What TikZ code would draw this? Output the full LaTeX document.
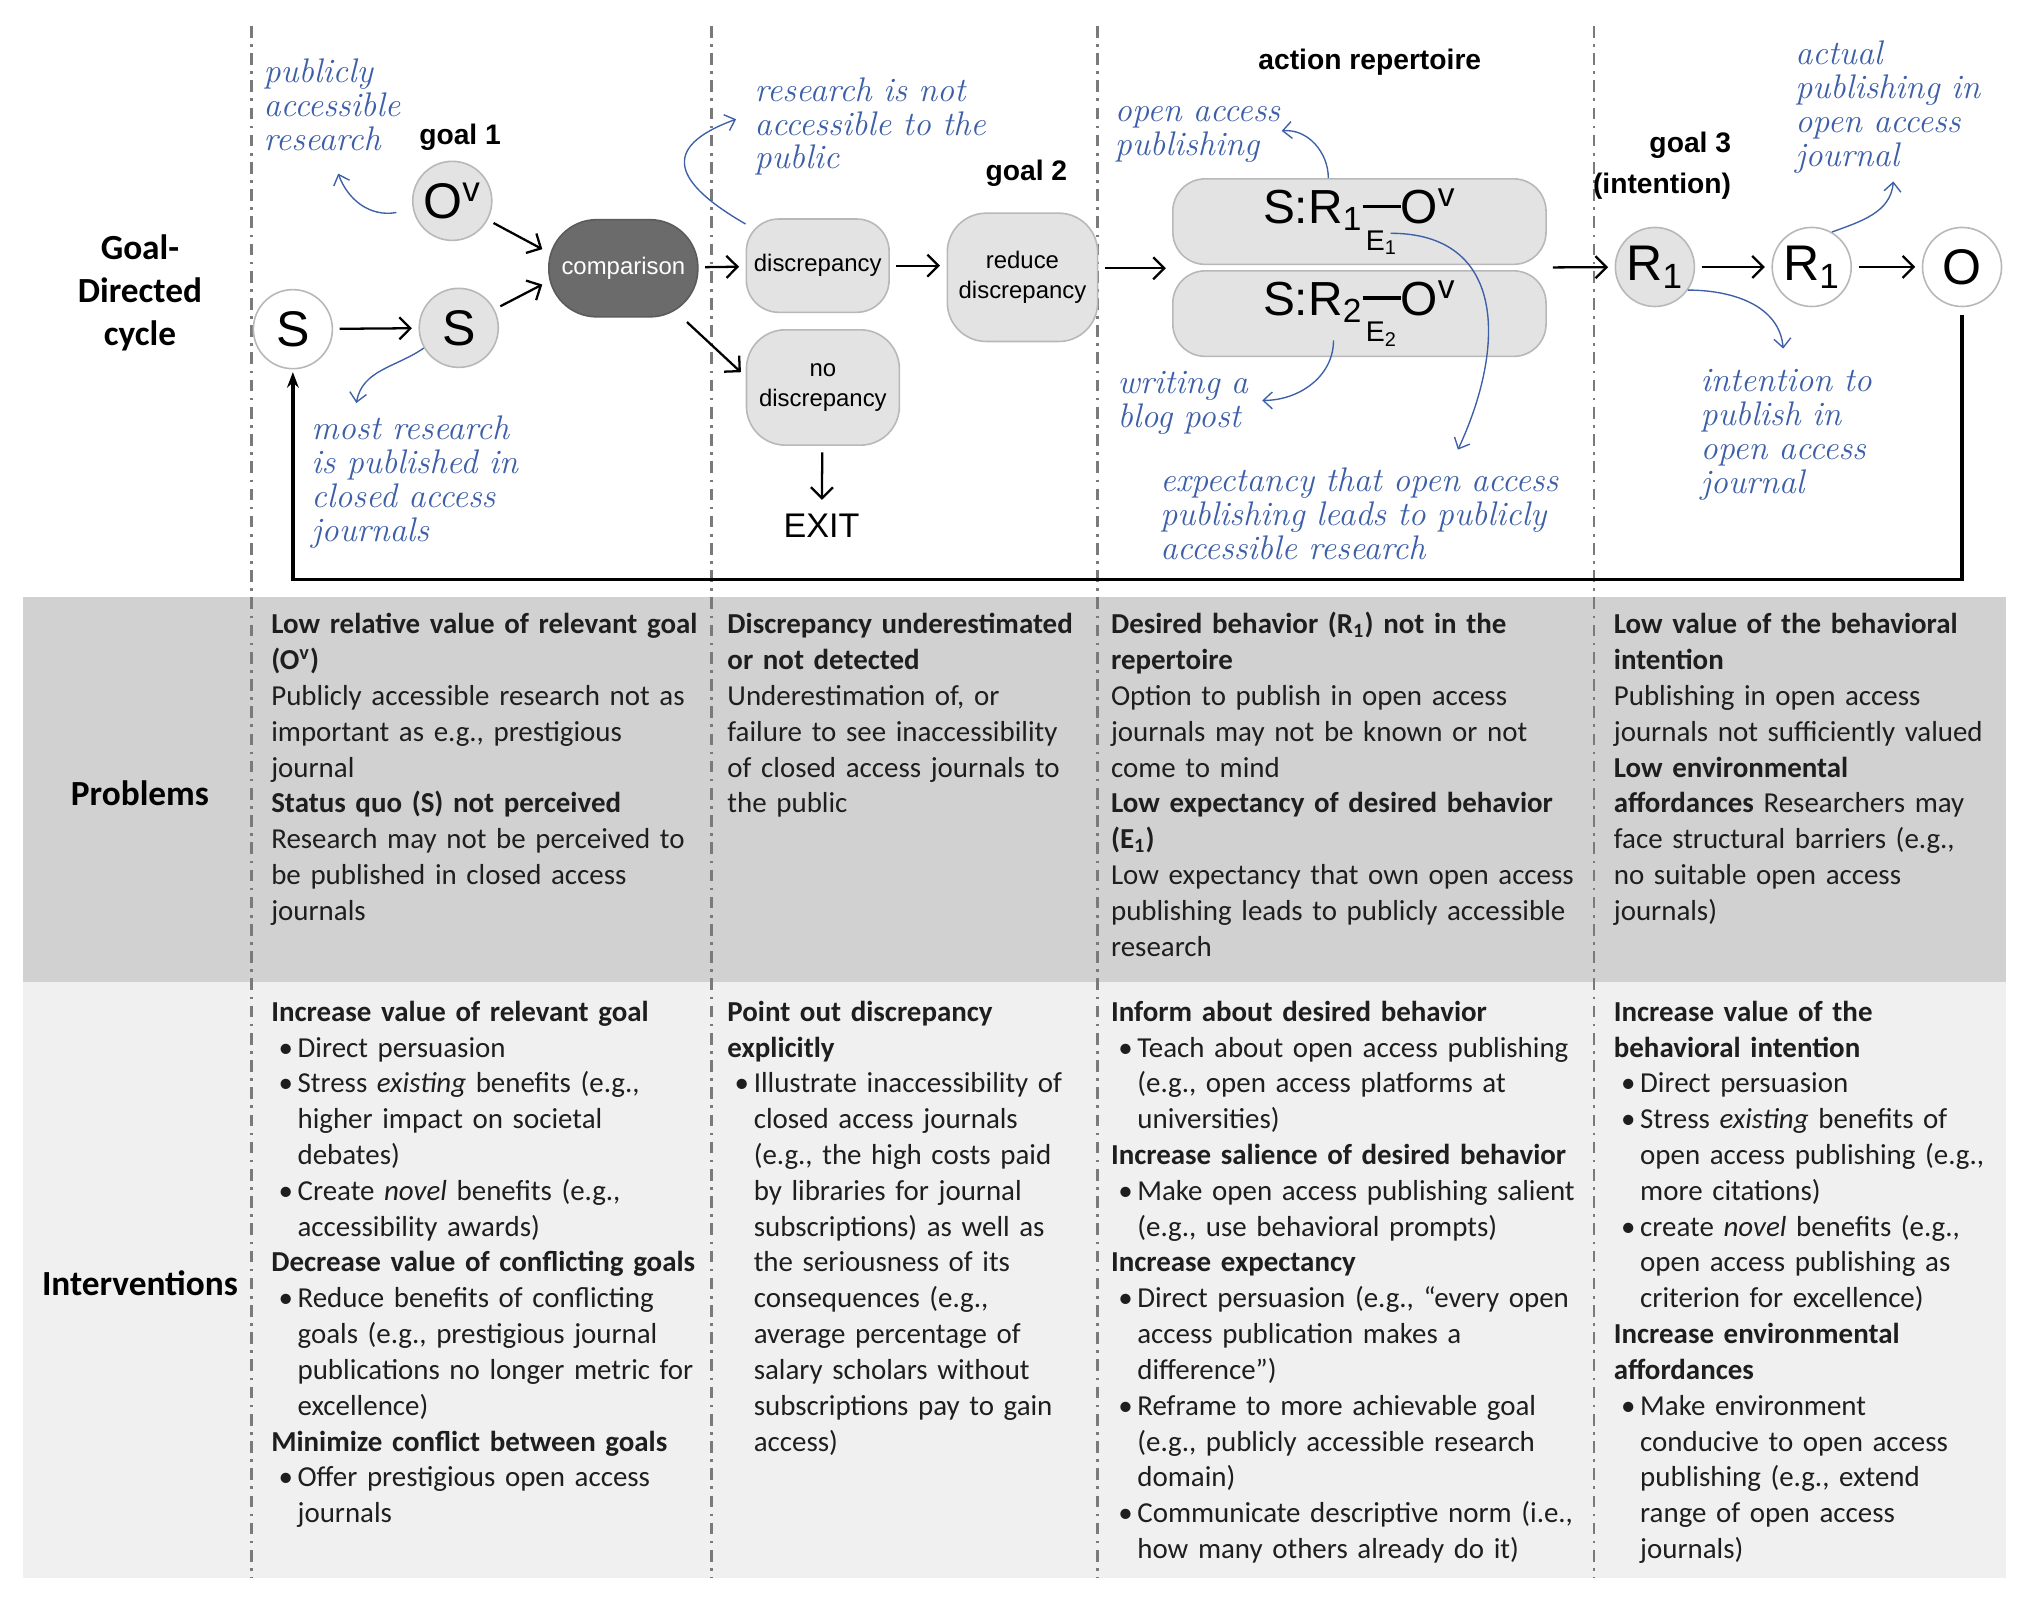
\documentclass[tikz,border=0pt]{standalone}
\usepackage{fontspec}
\newfontfamily\calfont{Carlito}
\newfontfamily\arialfont{Liberation Sans}
\usetikzlibrary{positioning,arrows.meta}

\definecolor{noteblue}{HTML}{3D5FA8}
\definecolor{probfill}{HTML}{D1D1D1}
\definecolor{intfill}{HTML}{F0F0F0}
\definecolor{boxfill}{HTML}{E3E3E3}
\definecolor{boxline}{HTML}{B8B8B8}
\definecolor{compfill}{HTML}{6B6B6B}
\definecolor{sepline}{HTML}{7A7A7A}
\definecolor{celltext}{HTML}{1E1E1E}

\newcommand\bl{\hspace*{0.25em}\makebox[0.66em][l]{\textbullet}}
\newcommand\ct{\hspace*{0.91em}}
\newcommand\srlab[1]{S:R\textsubscript{#1}\makebox[0pt][l]{\raisebox{-0.55em}{\fontsize{12.5}{12.5}\selectfont\hspace{0.12em}E\textsubscript{#1}}}\rule[0.33em]{0.8em}{0.07em}O\textsuperscript{v}}

\begin{document}
\begin{tikzpicture}[x=0.2mm,y=-0.2mm,
    circ/.style={circle,draw=boxline,line width=0.7pt,minimum size=12.2mm,inner sep=0pt,
      font=\arialfont\fontsize{22}{22}\selectfont},
    statefill/.style={circ,fill=boxfill},
    stateopen/.style={circ,fill=white},
    proc/.style={rounded corners=5mm,draw=boxline,line width=0.7pt,fill=boxfill,align=center,
      font=\arialfont\fontsize{10.5}{13}\selectfont},
    goal/.style={font=\arialfont\bfseries\fontsize{12.4}{18}\selectfont},
    flow/.style={-{Straight Barb[length=1.7mm,width=3.4mm]},line width=1pt,shorten <=1mm,shorten >=1mm},
    note/.style={noteblue,font=\itshape\fontsize{15}{14.9}\selectfont,anchor=base west,align=left,
      text width=7cm,inner sep=0pt},
    notearrow/.style={noteblue,line width=0.6pt,-{Straight Barb[length=1.4mm,width=2.6mm]}},
    rowhead/.style={font=\calfont\bfseries\fontsize{15.5}{18.7}\selectfont,align=center},
    cell/.style={font=\calfont\fontsize{12.7}{15.73}\selectfont,text=celltext,anchor=base west,
      align=left,text width=7.5cm,inner sep=0pt},
    colsep/.style={sepline,line width=1.2pt,dash pattern=on 1.8mm off 1mm on 0.4mm off 1mm}
  ]
    \useasboundingbox (0,0) rectangle (1568,1237);

    % Bands
    \fill[probfill] (18,461) rectangle (1548,758);
    \fill[intfill] (18,758) rectangle (1548,1218);

    % Column separators
    \draw[colsep] (194,20) -- (194,1218);
    \draw[colsep] (549,20) -- (549,1218);
    \draw[colsep] (847,20) -- (847,1218);
    \draw[colsep] (1230,20) -- (1230,1218);

    % Row heads
    \node[rowhead] (gdc) at (108,226) {Goal-\\Directed\\cycle};
    \node[rowhead] (prob) at (108,612) {Problems};
    \node[rowhead] (intv) at (108,990) {Interventions};

    % Goal 1
    \node[stateopen] (S0) at (226,254) {S};
    \node[statefill] (S1) at (354,253) {S};
    \node[statefill] (Ov) at (349,155) {O\textsuperscript{v}};
    \node[goal] (g1) at (355,106) {goal 1};

    % Comparison
    \node[proc,fill=compfill,draw=compfill!85!black,text=white,minimum width=23mm,
      minimum height=15mm,rounded corners=7.4mm] (comp) at (481,207) {comparison};
    \node[proc,minimum width=20.8mm,minimum height=14.4mm] (disc) at (631,205) {discrepancy};
    \node[proc,minimum width=23.6mm,minimum height=17.8mm,rounded corners=6mm] (nodisc) at (635,299) {no\\discrepancy};
    \node[font=\arialfont\fontsize{15}{15}\selectfont] (exit) at (634,406) {EXIT};

    % Goal 2
    \node[proc,minimum width=23.2mm,minimum height=19.8mm,rounded corners=6mm] (red) at (789,214) {reduce\\discrepancy};
    \node[goal] (g2) at (792,134) {goal 2};

    % Action repertoire
    \node[goal] (ar) at (1057,48) {action repertoire};
    \node[proc,minimum width=57.6mm,minimum height=13.2mm,font=\arialfont\fontsize{21}{21}\selectfont] (sr1) at (1049,171) {\srlab{1}};
    \node[proc,minimum width=57.6mm,minimum height=13.2mm,font=\arialfont\fontsize{21}{21}\selectfont] (sr2) at (1049,242) {\srlab{2}};
    \node[minimum width=57.6mm,minimum height=27.4mm] (rep) at (1049,207) {};

    % Goal 3
    \node[goal,align=right,anchor=east] (g3) at (1342,128) {goal 3\\(intention)};
    \node[statefill] (R1a) at (1277,206) {R\textsubscript{1}};
    \node[stateopen] (R1b) at (1398,206) {R\textsubscript{1}};
    \node[stateopen] (O) at (1514,206) {O};

    % Flow
    \draw[flow] (S0) -- (S1);
    \draw[flow] (Ov) -- (comp.168);
    \draw[flow] (S1) -- (comp.190);
    \draw[flow] (comp) -- (disc);
    \draw[flow] (comp.-40) -- (nodisc.172);
    \draw[flow] (nodisc) -- (exit);
    \draw[flow] (disc) -- (disc -| red.west);
    \draw[flow] (red.east |- rep) -- (rep);
    \draw[flow] (rep) -- (R1a);
    \draw[flow] (R1a) -- (R1b);
    \draw[flow] (R1b) -- (O);

    % Feedback
    \coordinate (fb) at (226,447);
    \draw[line width=1.5pt,-{Stealth[length=2.4mm,width=1.8mm]},shorten <=1.2mm,shorten >=0.4mm] (O) |- (fb) -- (S0);

    % Notes
    \node[note] (n1) at (203,64) {publicly\\accessible\\research};
    \node[note] (n2) at (240,339) {most research\\is published in\\closed access\\journals};
    \node[note] (n3) at (582,78) {research is not\\accessible to the\\public};
    \node[note] (n4) at (860,94) {open access\\publishing};
    \node[note] (n5) at (862,304) {writing a\\blog post};
    \node[note] (n6) at (895,379) {expectancy that open access\\publishing leads to publicly\\accessible research};
    \node[note] (n7) at (1385,50) {actual\\publishing in\\open access\\journal};
    \node[note] (n8) at (1312,302) {intention to\\publish in\\open access\\journal};

    \coordinate (e1) at (261,134);
    \coordinate (e2) at (275,311);
    \coordinate (e3) at (568,92);
    \coordinate (e4) at (989,101);
    \coordinate (e5) at (974,309);
    \coordinate (e6) at (1125,347);
    \coordinate (e7) at (1461,140);
    \coordinate (e8) at (1376,269);
    \draw[notearrow] ([xshift=-2.4mm,yshift=-1.8mm]Ov.west) to[out=190,in=-70] (e1);
    \draw[notearrow] (S1.210) to[out=215,in=80] (e2);
    \draw[notearrow] (disc.150) to[out=150,in=200,looseness=2] (e3);
    \draw[notearrow] ([xshift=-4.8mm]sr1.north) to[out=90,in=5] (e4);
    \draw[notearrow] ([xshift=-4mm,yshift=2.6mm]sr2.south) to[out=-90,in=0] (e5);
    \draw[notearrow] ([xshift=4.8mm,yshift=-1.8mm]sr1.center) to[out=0,in=65,looseness=1.3] (e6);
    \draw[notearrow] (R1b.60) to[out=20,in=-95] (e7);
    \draw[notearrow] (R1a.-35) to[out=0,in=95] (e8);

    % Problems
    \node[cell] (p1) at (209,489) {\textbf{Low relative value of relevant goal}\\
      \textbf{(O\textsuperscript{v})}\\
      Publicly accessible research not as\\
      important as e.g., prestigious\\
      journal\\
      \textbf{Status quo (S) not perceived}\\
      Research may not be perceived to\\
      be published in closed access\\
      journals};
    \node[cell] (p2) at (561,489) {\textbf{Discrepancy underestimated}\\
      \textbf{or not detected}\\
      Underestimation of, or\\
      failure to see inaccessibility\\
      of closed access journals to\\
      the public};
    \node[cell] (p3) at (857,489) {\textbf{Desired behavior (R\textsubscript{1}) not in the}\\
      \textbf{repertoire}\\
      Option to publish in open access\\
      journals may not be known or not\\
      come to mind\\
      \textbf{Low expectancy of desired behavior}\\
      \textbf{(E\textsubscript{1})}\\
      Low expectancy that own open access\\
      publishing leads to publicly accessible\\
      research};
    \node[cell] (p4) at (1245,489) {\textbf{Low value of the behavioral}\\
      \textbf{intention}\\
      Publishing in open access\\
      journals not sufficiently valued\\
      \textbf{Low environmental}\\
      \textbf{affordances} Researchers may\\
      face structural barriers (e.g.,\\
      no suitable open access\\
      journals)};

    % Interventions
    \node[cell] (i1) at (209,788) {\textbf{Increase value of relevant goal}\\
      \bl Direct persuasion\\
      \bl Stress \textit{existing} benefits (e.g.,\\
      \ct higher impact on societal\\
      \ct debates)\\
      \bl Create \textit{novel} benefits (e.g.,\\
      \ct accessibility awards)\\
      \textbf{Decrease value of conflicting goals}\\
      \bl Reduce benefits of conflicting\\
      \ct goals (e.g., prestigious journal\\
      \ct publications no longer metric for\\
      \ct excellence)\\
      \textbf{Minimize conflict between goals}\\
      \bl Offer prestigious open access\\
      \ct journals};
    \node[cell] (i2) at (561,788) {\textbf{Point out discrepancy}\\
      \textbf{explicitly}\\
      \bl Illustrate inaccessibility of\\
      \ct closed access journals\\
      \ct (e.g., the high costs paid\\
      \ct by libraries for journal\\
      \ct subscriptions) as well as\\
      \ct the seriousness of its\\
      \ct consequences (e.g.,\\
      \ct average percentage of\\
      \ct salary scholars without\\
      \ct subscriptions pay to gain\\
      \ct access)};
    \node[cell] (i3) at (857,788) {\textbf{Inform about desired behavior}\\
      \bl Teach about open access publishing\\
      \ct (e.g., open access platforms at\\
      \ct universities)\\
      \textbf{Increase salience of desired behavior}\\
      \bl Make open access publishing salient\\
      \ct (e.g., use behavioral prompts)\\
      \textbf{Increase expectancy}\\
      \bl Direct persuasion (e.g., “every open\\
      \ct access publication makes a\\
      \ct difference”)\\
      \bl Reframe to more achievable goal\\
      \ct (e.g., publicly accessible research\\
      \ct domain)\\
      \bl Communicate descriptive norm (i.e.,\\
      \ct how many others already do it)};
    \node[cell] (i4) at (1245,788) {\textbf{Increase value of the}\\
      \textbf{behavioral intention}\\
      \bl Direct persuasion\\
      \bl Stress \textit{existing} benefits of\\
      \ct open access publishing (e.g.,\\
      \ct more citations)\\
      \bl create \textit{novel} benefits (e.g.,\\
      \ct open access publishing as\\
      \ct criterion for excellence)\\
      \textbf{Increase environmental}\\
      \textbf{affordances}\\
      \bl Make environment\\
      \ct conducive to open access\\
      \ct publishing (e.g., extend\\
      \ct range of open access\\
      \ct journals)};
\end{tikzpicture}
\end{document}
